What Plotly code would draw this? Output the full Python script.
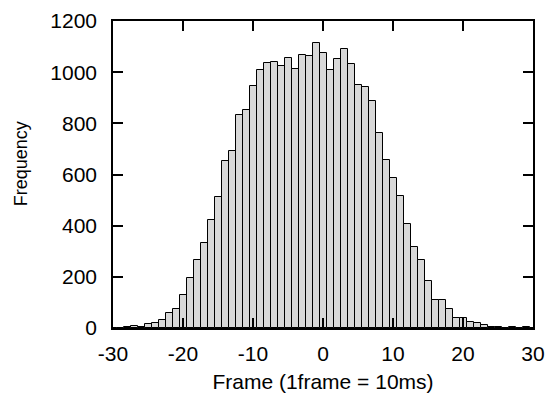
import plotly.graph_objects as go

frames = list(range(-30, 31))
counts = [1, 1, 2, 8, 4, 15, 20, 30, 59, 76,
          128, 195, 264, 332, 421, 514, 654, 690, 832, 854,
          944, 1009, 1034, 1038, 1026, 1057, 1012, 1069, 1065, 1114,
          1073, 1009, 1052, 1091, 1030, 951, 941, 886, 763, 657,
          585, 515, 406, 316, 267, 185, 111, 109, 74, 39,
          39, 22, 19, 12, 5, 2, 1, 2, 1, 2, 1]
x_ticks = [-30, -20, -10, 0, 10, 20, 30]
y_ticks = [0, 200, 400, 600, 800, 1000, 1200]

FONT = "Liberation Sans, Arial, sans-serif"

fig = go.Figure(go.Bar(
    x=frames, y=counts, width=1,
    marker=dict(color="#d8d8d8", line=dict(color="black", width=1)),
))

fig.update_layout(
    width=548, height=395,
    margin=dict(l=113, r=15, t=21, b=67),
    paper_bgcolor="white", plot_bgcolor="white",
    font=dict(family=FONT, size=21, color="black"),
    showlegend=False, bargap=0,
    annotations=[dict(
        text="Frequency", textangle=-90, showarrow=False,
        xref="paper", yref="paper", x=-0.217, y=0.536,
        xanchor="center", yanchor="middle", font=dict(size=18),
    )],
)
fig.update_xaxes(
    range=[-30, 30], tickvals=x_ticks, ticktext=[str(v) for v in x_ticks],
    showline=True, linecolor="black", linewidth=1.5, mirror="ticks",
    ticks="inside", ticklen=10, tickwidth=1.5, tickcolor="black",
    showgrid=False, zeroline=False, ticklabelstandoff=6, automargin=False,
    title=dict(text="Frame (1frame = 10ms)", font=dict(size=21), standoff=10),
)
fig.update_yaxes(
    range=[0, 1200], tickvals=y_ticks, ticktext=[str(v) for v in y_ticks],
    showline=True, linecolor="black", linewidth=1.5, mirror="ticks",
    ticks="inside", ticklen=10, tickwidth=1.5, tickcolor="black",
    showgrid=False, zeroline=False, ticklabelstandoff=10, automargin=False,
)

fig.write_html("out.html")
